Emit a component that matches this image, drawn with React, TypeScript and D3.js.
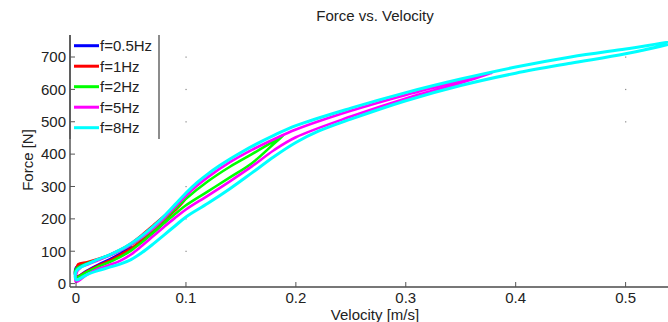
import React from "react";
import * as d3 from "d3";

// ---- data ----
const seriesLabels = ["f=0.5Hz", "f=1Hz", "f=2Hz", "f=5Hz", "f=8Hz"];
const seriesColors = ["#0000ff", "#ff0000", "#00ff00", "#ff00ff", "#00ffff"];

// each loop: upper branch (v ascending) then lower branch (v descending); [velocity, force]
const loop05Hz: [number, number][] = [
  [0, 50], [0.01, 62], [0.02, 74], [0.03, 88], [0.04, 102], [0.05, 113],
  [0.04, 92], [0.03, 74], [0.02, 58], [0.01, 40], [0, 22],
];
const loop1Hz: [number, number][] = [
  [0, 30], [0.002, 60], [0.01, 66], [0.02, 76], [0.03, 88], [0.04, 104], [0.05, 124],
  [0.06, 150], [0.07, 179], [0.08, 208], [0.09, 234], [0.099, 257],
  [0.09, 226], [0.08, 194], [0.07, 163], [0.06, 134], [0.05, 108], [0.04, 88],
  [0.03, 70], [0.02, 55], [0.01, 38], [0, 20],
];
const loop2Hz: [number, number][] = [
  [0, 45], [0.01, 62], [0.02, 74], [0.03, 87], [0.04, 102], [0.05, 120], [0.06, 142],
  [0.07, 168], [0.08, 198], [0.09, 230], [0.1, 262], [0.12, 316], [0.14, 361],
  [0.16, 400], [0.18, 440], [0.189, 459],
  [0.18, 432], [0.16, 372], [0.14, 328], [0.12, 285], [0.1, 242], [0.09, 215],
  [0.08, 186], [0.07, 156], [0.06, 128], [0.05, 102], [0.04, 82], [0.03, 66],
  [0.02, 52], [0.01, 36], [0, 20],
];
const loop5Hz: [number, number][] = [
  [0, 30], [0.005, 52], [0.01, 58], [0.02, 72], [0.03, 86], [0.04, 101], [0.05, 120],
  [0.06, 143], [0.07, 170], [0.08, 202], [0.09, 237], [0.1, 271], [0.11, 302],
  [0.12, 329], [0.14, 375], [0.16, 413], [0.18, 446], [0.2, 476], [0.25, 534],
  [0.3, 583], [0.35, 627], [0.379, 651],
  [0.35, 620], [0.3, 572], [0.25, 516], [0.2, 452], [0.18, 412], [0.16, 362],
  [0.14, 316], [0.12, 272], [0.1, 229], [0.09, 203], [0.08, 175], [0.07, 146],
  [0.06, 117], [0.05, 90], [0.04, 70], [0.03, 57], [0.02, 45], [0.01, 28], [0, 5],
];
const loop8Hz: [number, number][] = [
  [0, 38], [0.005, 52], [0.01, 60], [0.02, 75], [0.03, 88], [0.04, 104], [0.05, 124],
  [0.06, 148], [0.07, 176], [0.08, 208], [0.09, 244], [0.1, 280], [0.11, 312],
  [0.12, 339], [0.13, 363], [0.14, 385], [0.15, 405], [0.16, 424], [0.18, 458],
  [0.2, 488], [0.25, 542], [0.3, 590], [0.35, 632], [0.4, 669], [0.45, 700],
  [0.5, 725], [0.55, 750],
  [0.5, 710], [0.45, 681], [0.4, 650], [0.35, 612], [0.3, 565], [0.25, 508],
  [0.22, 470], [0.2, 436], [0.18, 392], [0.16, 342], [0.14, 293], [0.12, 248],
  [0.1, 206], [0.09, 178], [0.08, 150], [0.07, 122], [0.06, 96], [0.05, 74],
  [0.04, 60], [0.03, 50], [0.02, 40], [0.01, 28], [0, 12],
];
const loops = [loop05Hz, loop1Hz, loop2Hz, loop5Hz, loop8Hz];

const xTicks = [0, 0.1, 0.2, 0.3, 0.4, 0.5];
const xTickLabels = ["0", "0.1", "0.2", "0.3", "0.4", "0.5"];
const yTicks = [0, 100, 200, 300, 400, 500, 600, 700];
const yTickLabels = ["0", "100", "200", "300", "400", "500", "600", "700"];
const strayDots: [number, number][] = [
  [0.1, 700], [0.1, 600], [0.1, 500], [0.1, 300], [0.1, 200], [0.1, 100],
  [0.5, 700], [0.5, 600], [0.5, 500],
];

const titleText = "Force vs. Velocity";
const xLabelText = "Velocity [m/s]";
const yLabelText = "Force [N]";

// ---- layout ----
const W = 668, H = 322;
const plotL = 70, plotR = 680, plotT = 35, plotB = 287;
const font = "'Liberation Sans', Arial, Helvetica, sans-serif";

export default function App() {
  const x = d3.scaleLinear().domain([-0.0055, 0.5495]).range([plotL, plotR]);
  const y = d3.scaleLinear().domain([-10.5, 768]).range([plotB, plotT]);
  const line = d3
    .line<[number, number]>()
    .x((d) => x(d[0]))
    .y((d) => y(d[1]))
    .curve(d3.curveCatmullRomClosed.alpha(0.5));

  const legX = 70, legR = 159, legT = 35, legB = 139;
  const rowY = (i: number) => 45.7 + i * 20.5;

  return (
    <svg width={W} height={H} style={{ position: "absolute", left: 0, top: 0, background: "#fff" }}
      fontFamily={font}>
      <defs>
        <clipPath id="plotclip">
          <rect x={plotL} y={plotT} width={plotR - plotL} height={plotB - plotT} />
        </clipPath>
      </defs>
      <rect x={0} y={0} width={W} height={H} fill="#fff" />
      {strayDots.map((d, i) => (
        <rect key={"sd" + i} x={x(d[0]) - 0.5} y={y(d[1]) - 0.5} width={1.2} height={1.2} fill="#888" />
      ))}
      <g clipPath="url(#plotclip)">
        {loops.map((pts, i) => (
          <path key={i} d={line(pts) || ""} fill="none" stroke={seriesColors[i]}
            strokeWidth={i === 4 ? 3 : 2.6} strokeLinejoin="round" />
        ))}
      </g>
      {/* axes */}
      <line x1={plotL} x2={plotR} y1={plotB} y2={plotB} stroke="#777" strokeWidth={2} />
      <line x1={plotL} x2={plotL} y1={plotT} y2={plotB} stroke="#555" strokeWidth={1.5} />
      {xTicks.map((t, i) => (
        <g key={"xt" + i}>
          <line x1={x(t)} x2={x(t)} y1={plotB} y2={plotB - 5} stroke="#555" strokeWidth={1} />
          <text x={x(t)} y={303} textAnchor="middle" fontSize={15} fill="#222">{xTickLabels[i]}</text>
        </g>
      ))}
      {yTicks.map((t, i) => (
        <g key={"yt" + i}>
          <line x1={plotL} x2={plotL + 5} y1={y(t)} y2={y(t)} stroke="#555" strokeWidth={1} />
          <text x={66} y={y(t) + 5.3} textAnchor="end" fontSize={15} fill="#222">{yTickLabels[i]}</text>
        </g>
      ))}
      <text x={375} y={21} textAnchor="middle" fontSize={15} fill="#222">{titleText}</text>
      <text x={375} y={320} textAnchor="middle" fontSize={15} fill="#222">{xLabelText}</text>
      <text transform="translate(33,160) rotate(-90)" textAnchor="middle" fontSize={15} fill="#222">{yLabelText}</text>
      {/* legend */}
      <line x1={legR} x2={legR} y1={legT} y2={legB} stroke="#666" strokeWidth={1.5} />
      <line x1={legX} x2={legX} y1={legT} y2={legB} stroke="#555" strokeWidth={1.5} />
      {seriesLabels.map((s, i) => (
        <g key={"lg" + i}>
          <line x1={74} x2={99} y1={rowY(i)} y2={rowY(i)} stroke={seriesColors[i]} strokeWidth={3} />
          <text x={100} y={rowY(i) + 5.3} fontSize={15} fill="#222">{s}</text>
        </g>
      ))}
    </svg>
  );
}
